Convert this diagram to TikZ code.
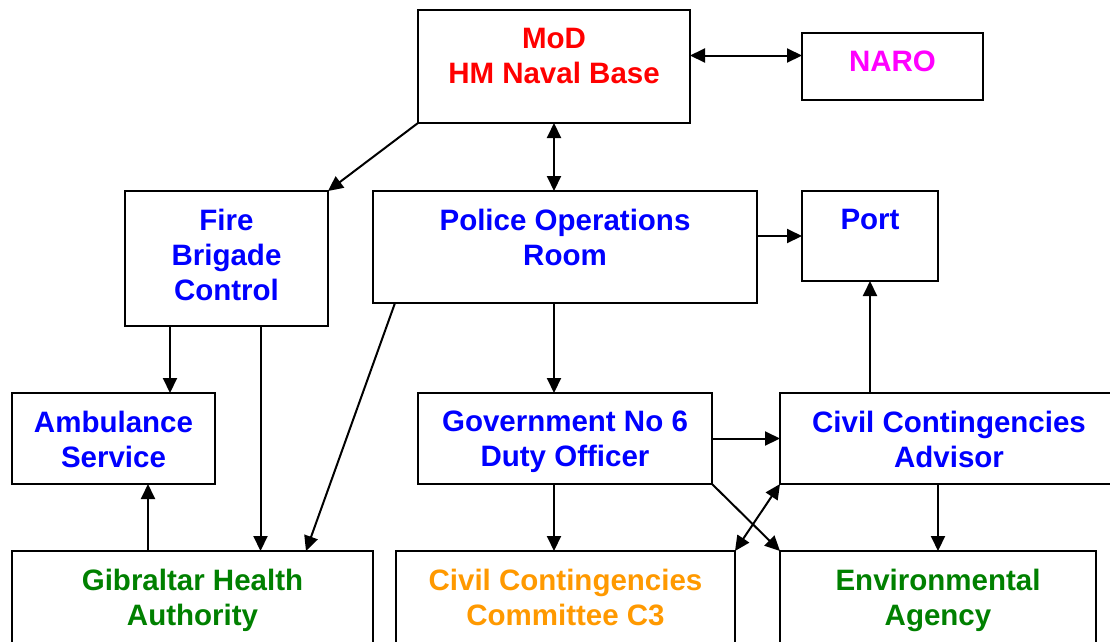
\documentclass[tikz,border=0pt]{standalone}
\usepackage{fontspec}
\setmainfont{Liberation Sans}
\usetikzlibrary{arrows.meta}
\definecolor{ccgreen}{RGB}{0,128,0}
\definecolor{ccorange}{RGB}{255,153,0}
\definecolor{ccmagenta}{RGB}{255,0,255}
\definecolor{ccblue}{RGB}{0,0,255}
\definecolor{ccred}{RGB}{255,0,0}

\begin{document}
\begin{tikzpicture}[x=1pt,y=-1pt,
  every node/.style={inner sep=0pt,outer sep=0pt},
  box/.style={draw,line width=2pt,rectangle,anchor=north west},
  txt/.style={anchor=north,yshift=-18pt,align=center,font=\bfseries\fontsize{29.5}{35}\selectfont},
  link/.style={line width=2pt,-{Triangle[length=15pt,width=14pt]}},
  both/.style={line width=2pt,{Triangle[length=15pt,width=14pt]}-{Triangle[length=15pt,width=14pt]}}]
  \clip (0,0) rectangle (1110,641);

  \node[box,minimum width=272,minimum height=113,label={[txt,text=ccred]north:MoD\\HM Naval Base}] (mod) at (418,10) {};
  \node[box,minimum width=181,minimum height=67,label={[txt,text=ccmagenta]north:NARO}] (naro) at (802,33) {};
  \node[box,minimum width=203,minimum height=135,label={[txt,text=ccblue]north:Fire\\Brigade\\Control}] (fire) at (125,191) {};
  \node[box,minimum width=384,minimum height=112,label={[txt,text=ccblue]north:Police Operations\\Room}] (police) at (373,191) {};
  \node[box,minimum width=136,minimum height=90,label={[txt,text=ccblue]north:Port}] (port) at (802,191) {};
  \node[box,minimum width=203,minimum height=91,label={[txt,text=ccblue]north:Ambulance\\Service}] (amb) at (12,393) {};
  \node[box,minimum width=294,minimum height=91,label={[txt,text=ccblue]north:Government No 6\\Duty Officer}] (gov) at (418,393) {};
  \node[box,minimum width=338,minimum height=91,label={[txt,text=ccblue]north:Civil Contingencies\\Advisor}] (cca) at (780,393) {};
  \node[box,minimum width=361,minimum height=150,label={[txt,text=ccgreen]north:Gibraltar Health\\Authority}] (gha) at (12,551) {};
  \node[box,minimum width=339,minimum height=150,label={[txt,text=ccorange]north:Civil Contingencies\\Committee C3}] (c3) at (396,551) {};
  \node[box,minimum width=316,minimum height=150,label={[txt,text=ccgreen]north:Environmental\\Agency}] (env) at (780,551) {};

  \draw[both]([yshift=11pt]mod.east)--([yshift=11pt]naro.west);
  \draw[link](mod.south west)--(fire.north east);
  \draw[both](mod.south)--(mod.south |- police.north);
  \draw[link](police.east |- port.west)--(port.west);
  \draw[link]([xshift=-56.5pt]fire.south)--([xshift=-56.5pt]fire.south |- amb.north);
  \draw[link]([xshift=34pt]fire.south)--([xshift=34pt]fire.south |- gha.north);
  \draw[link]([xshift=22pt]police.south west)--([xshift=-67pt]gha.north east);
  \draw[link](police.south -| mod.south)--(gov.north -| mod.south);
  \draw[link](gov.east)--(cca.west);
  \draw[link](cca.north -| port.south)--(port.south);
  \draw[link]([xshift=34.5pt]amb.south |- gha.north)--([xshift=34.5pt]amb.south);
  \draw[link](gov.south -| mod.south)--(c3.north -| mod.south);
  \draw[link](gov.south east)--(env.north west);
  \draw[both](cca.south west)--(c3.north east);
  \draw[link](cca.south -| env.north)--(env.north);
\end{tikzpicture}
\end{document}
